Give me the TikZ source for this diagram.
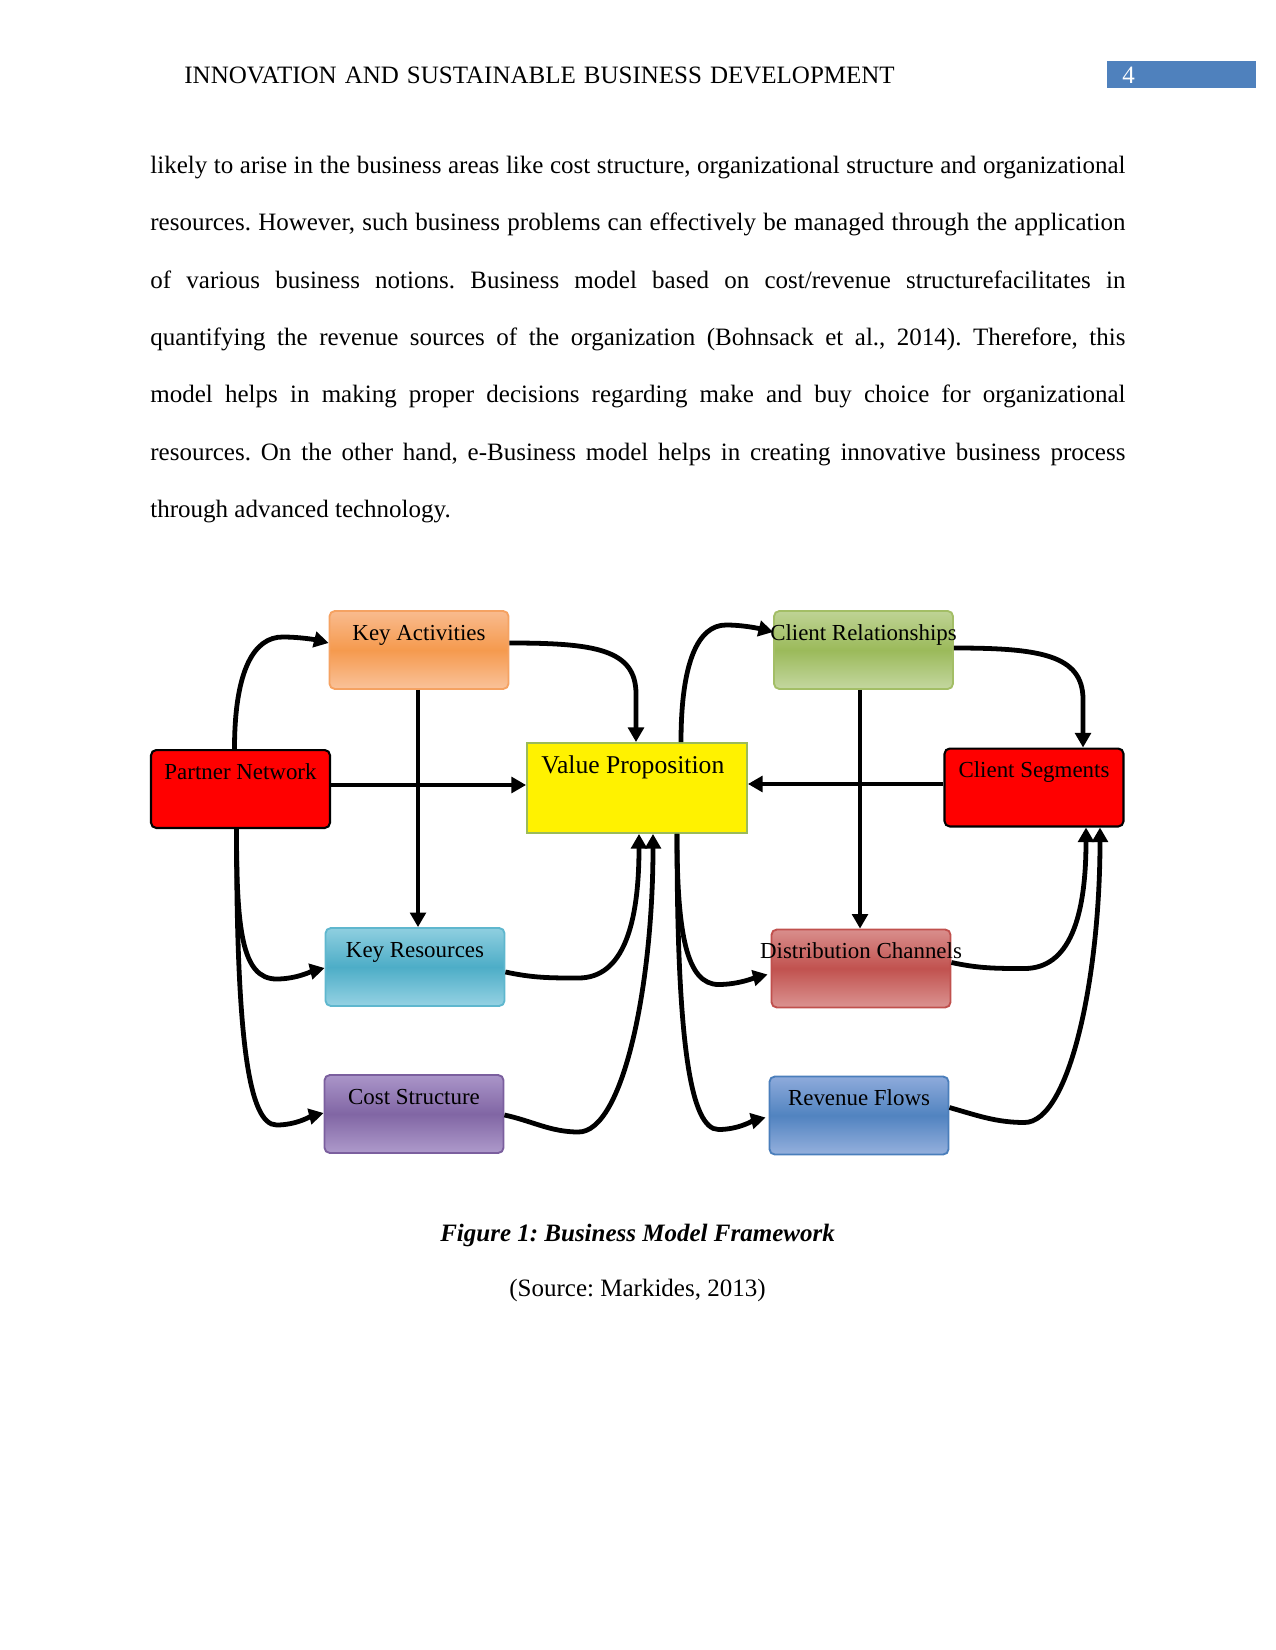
\documentclass[tikz,border=0pt]{standalone}
\usepackage{fontspec}
\setmainfont{Liberation Serif}
\usetikzlibrary{calc,arrows.meta}
\definecolor{kaB}{HTML}{F5A262}\definecolor{kaT}{HTML}{F9BB8E}\definecolor{kaM}{HTML}{F59A4E}\definecolor{kaD}{HTML}{FAC29A}
\definecolor{crB}{HTML}{A3BE66}\definecolor{crT}{HTML}{BFD395}\definecolor{crM}{HTML}{9BBA5A}\definecolor{crD}{HTML}{C4D7A0}
\definecolor{krB}{HTML}{5FB7CE}\definecolor{krT}{HTML}{8FCFE0}\definecolor{krM}{HTML}{4DADC7}\definecolor{krD}{HTML}{95D2E3}
\definecolor{coB}{HTML}{7B5F9E}\definecolor{coT}{HTML}{AA95C9}\definecolor{coM}{HTML}{8166A4}\definecolor{coD}{HTML}{AE9ACB}
\definecolor{dcB}{HTML}{C0504D}\definecolor{dcT}{HTML}{D98E8C}\definecolor{dcM}{HTML}{C1524F}\definecolor{dcD}{HTML}{DB9391}
\definecolor{rfB}{HTML}{4A7EBB}\definecolor{rfT}{HTML}{8EAADB}\definecolor{rfM}{HTML}{5183C0}\definecolor{rfD}{HTML}{95B0DD}
\definecolor{vpB}{HTML}{9BBB59}\definecolor{hdr}{HTML}{4F81BD}
\frenchspacing
\begin{document}
\begin{tikzpicture}[x=0.48pt,y=-0.48pt,
  box/.style={rectangle, rounded corners=2.5pt, minimum width=85.9pt, minimum height=37.4pt,
    inner sep=0pt, text height=14pt, text depth=23.4pt, font=\fontsize{11}{13}\selectfont, line width=0.9pt},
  gbox/.style n args={4}{box, draw=#1, top color=#2, bottom color=#4, middle color=#3},
  redbox/.style={box, draw=black, fill=red, line width=1pt},
  arr/.style={line width=2.3pt, -{Triangle[length=7pt,width=7.5pt]}},
  txt/.style={inner sep=0pt, anchor=base west, font=\fontsize{12}{14}\selectfont}]
\useasboundingbox (0,0) rectangle (1275,1650);
% header
\node[txt] (head) at (184,83.5) {\makebox[341pt][s]{INNOVATION AND SUSTAINABLE BUSINESS DEVELOPMENT}};
\node[fill=hdr, minimum width=71.5pt, minimum height=13pt, inner sep=0pt, anchor=north west] (pgbox) at (1107,61) {};
\node[txt, text=white] (pgnum) at (1122,83.5) {4};
% body text
\node[txt] (l1) at (150,173.5) {\makebox[468pt][s]{likely to arise in the business areas like cost structure, organizational structure and organizational}};
\node[txt] (l2) at (150,230.8) {\makebox[468pt][s]{resources. However, such business problems can effectively be managed through the application}};
\node[txt] (l3) at (150,288.1) {\makebox[468pt][s]{of various business notions. Business model based on cost/revenue structurefacilitates in}};
\node[txt] (l4) at (150,345.4) {\makebox[468pt][s]{quantifying the revenue sources of the organization (Bohnsack et al., 2014). Therefore, this}};
\node[txt] (l5) at (150,402.7) {\makebox[468pt][s]{model helps in making proper decisions regarding make and buy choice for organizational}};
\node[txt] (l6) at (150,460.0) {\makebox[468pt][s]{resources. On the other hand, e-Business model helps in creating innovative business process}};
\node[txt] (l7) at (150,517.3) {through advanced technology.};
% boxes
\node[gbox={kaB}{kaT}{kaM}{kaD}] (ka) at (419,650) {\makebox[0pt]{Key Activities}};
\node[redbox] (pn) at (240.5,789) {\makebox[0pt]{Partner Network}};
\node[rectangle, draw=vpB, fill=yellow, line width=0.9pt, minimum width=105.6pt, minimum height=43.2pt,
  inner sep=0pt, text height=14.4pt, text depth=28.8pt, font=\fontsize{12.3}{14}\selectfont] (vp) at (637,788) {\makebox[0pt]{\hspace*{-4pt}Value Proposition}};
\node[gbox={crB}{crT}{crM}{crD}] (cr) at (863.5,650) {\makebox[0pt]{Client Relationships}};
\node[redbox] (seg) at (1034,787.5) {\makebox[0pt]{Client Segments}};
\node[gbox={krB}{krT}{krM}{krD}] (kr) at (415,967) {\makebox[0pt]{Key Resources}};
\node[gbox={coB}{coT}{coM}{coD}] (cost) at (414,1114) {\makebox[0pt]{Cost Structure}};
\node[gbox={dcB}{dcT}{dcM}{dcD}] (dc) at (861,968.5) {\makebox[0pt]{Distribution Channels}};
\node[gbox={rfB}{rfT}{rfM}{rfD}] (rf) at (859,1115.5) {\makebox[0pt]{Revenue Flows}};
% connectors
\draw[arr] ($(pn.north)+(-6,0)$) .. controls +(0,-80) and +(-28,0) .. ($(ka.west)+(-46,-13)$) .. controls +(18,0) and +(-12,-3) .. ($(ka.west)+(0,-7)$);
\draw[arr] ($(ka.east)+(0,-7)$) .. controls +(85,0) and +(0,-45) .. ($(vp.north)+(-1,-48)$) -- ($(vp.north)+(-1,0)$);
\draw[arr] ($(pn.east)+(0,-4)$) -- ($(vp.west)+(0,-3)$);
\draw[arr] ($(ka.south)+(-1,0)$) -- ($(kr.north)+(3,0)$);
\draw[arr] ($(pn.south)+(-4,0)$) .. controls +(0,100) and +(-35,0) .. ($(kr.west)+(-48,12)$) .. controls +(20,0) and +(-12,3) .. ($(kr.west)+(0,1)$);
\draw[arr] ($(pn.south)+(-4,0)$) .. controls +(0,210) and +(-28,0) .. ($(cost.west)+(-47,11)$) .. controls +(20,0) and +(-12,3) .. ($(cost.west)+(0,-1)$);
\draw[arr] ($(kr.east)+(0,5)$) .. controls +(28,6) and +(-28,0) .. ($(kr.east)+(73,11)$) .. controls +(45,0) and +(0,90) .. ($(vp.south)+(2,0)$);
\draw[arr] ($(cost.east)+(0,1)$) .. controls +(28,6) and +(-28,0) .. ($(cost.east)+(74,18)$) .. controls +(45,0) and +(0,150) .. ($(vp.south)+(16,0)$);
\draw[arr] ($(vp.north)+(44,0)$) .. controls +(0,-80) and +(-28,0) .. ($(cr.west)+(-47,-25)$) .. controls +(18,0) and +(-12,-3) .. ($(cr.west)+(0,-18)$);
\draw[arr] ($(cr.east)+(0,-2)$) .. controls +(85,0) and +(0,-45) .. ($(seg.north)+(49,-48)$) -- ($(seg.north)+(49,0)$);
\draw[arr] ($(seg.west)+(0,-3.5)$) -- ($(vp.east)+(0,-4)$);
\draw[arr] ($(cr.south)+(-3.5,0)$) -- ($(dc.north)+(-1,0)$);
\draw[arr] ($(vp.south)+(40,0)$) .. controls +(0,100) and +(-32,0) .. ($(dc.west)+(-52,16)$) .. controls +(20,0) and +(-12,3) .. ($(dc.west)+(-3,6)$);
\draw[arr] ($(vp.south)+(40,0)$) .. controls +(0,210) and +(-28,0) .. ($(rf.west)+(-50,14)$) .. controls +(20,0) and +(-12,3) .. ($(rf.west)+(-3,2)$);
\draw[arr] ($(dc.east)+(0,-6)$) .. controls +(28,6) and +(-28,0) .. ($(dc.east)+(73,0)$) .. controls +(45,0) and +(0,90) .. ($(seg.south)+(52,0)$);
\draw[arr] ($(rf.east)+(0,-8)$) .. controls +(28,8) and +(-28,0) .. ($(rf.east)+(75,7)$) .. controls +(45,0) and +(0,150) .. ($(seg.south)+(66,0)$);
% caption
\node[inner sep=0pt, anchor=base, font=\fontsize{12}{14}\selectfont\bfseries\itshape] (cap) at (637.5,1241) {Figure 1: Business Model Framework};
\node[inner sep=0pt, anchor=base, font=\fontsize{12}{14}\selectfont] (src) at (637.5,1296.5) {(Source: Markides, 2013)};
\end{tikzpicture}
\end{document}
